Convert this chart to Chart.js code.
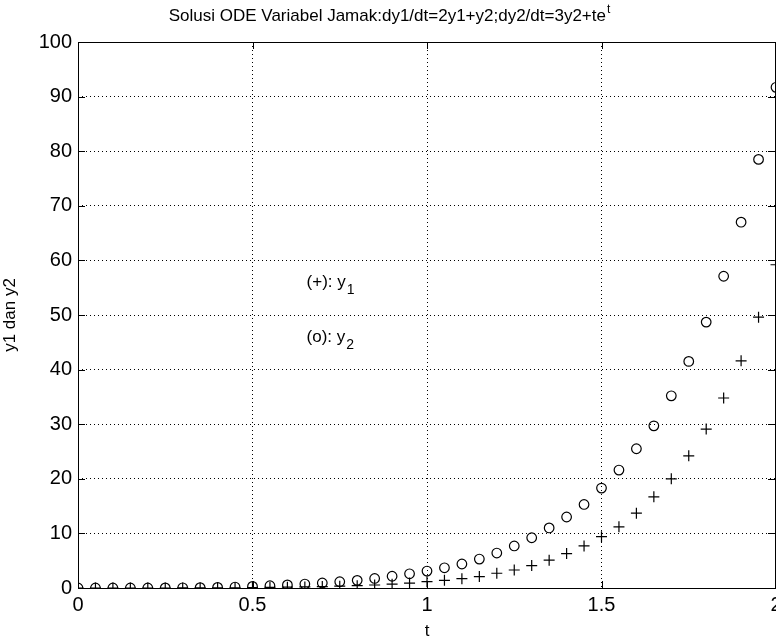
<!DOCTYPE html>
<html>
<head>
<meta charset="utf-8">
<script src="https://cdn.jsdelivr.net/npm/chart.js@4"></script>
<style>
html,body{margin:0;padding:0;background:#fff;}
#wrap{width:776px;height:643px;}
</style>
</head>
<body>
<div id="wrap"><canvas id="c" width="776" height="643"></canvas></div>
<script>
// ---- data ----
const tValues = [0,0.05,0.1,0.15,0.2,0.25,0.3,0.35,0.4,0.45,0.5,0.55,0.6,0.65,0.7,0.75,0.8,0.85,0.9,0.95,1.0,1.05,1.1,1.15,1.2,1.25,1.3,1.35,1.4,1.45,1.5,1.55,1.6,1.65,1.7,1.75,1.8,1.85,1.9,1.95,2.0];
const y1Values = [0,0,0,0,0,0,0.01,0.02,0.03,0.05,0.08,0.11,0.15,0.2,0.26,0.33,0.43,0.55,0.7,0.9,1.15,1.4,1.7,2.1,2.7,3.3,4.1,5.1,6.3,7.7,9.4,11.2,13.7,16.7,20.0,24.2,29.1,34.8,41.6,49.6,59.2];
const y2Values = [0,0,0,0,0.01,0.02,0.04,0.07,0.11,0.17,0.3,0.42,0.56,0.72,0.92,1.15,1.4,1.75,2.15,2.6,3.1,3.7,4.4,5.3,6.4,7.7,9.2,11.0,13.0,15.3,18.3,21.6,25.5,29.7,35.2,41.5,48.7,57.1,67.0,78.5,91.7];
const xTicks = [0,0.5,1,1.5,2];
const yTicks = [0,10,20,30,40,50,60,70,80,90,100];
const titleMain = "Solusi ODE Variabel Jamak:dy1/dt=2y1+y2;dy2/dt=3y2+te";
const titleSup = "t";
const xLabel = "t";
const yLabel = "y1 dan y2";
const noteText = ["(+): y", "(o): y"];
const noteSub = ["1", "2"];
const noteT = [0.655, 0.655];
const noteY = [56, 46];

const FONT = "'Liberation Sans', Arial, sans-serif";

const y1Data = tValues.map((t,i)=>({x:t,y:y1Values[i]}));
const y2Data = tValues.map((t,i)=>({x:t,y:y2Values[i]}));

const decor = {
  id:'decor',
  afterDraw(chart){
    const ctx = chart.ctx;
    const a = chart.chartArea;
    const xs = chart.scales.x, ys = chart.scales.y;
    ctx.save();
    ctx.strokeStyle = '#000';
    ctx.lineWidth = 1;
    // box
    ctx.strokeRect(Math.round(a.left)+0.5, Math.round(a.top)+0.5, Math.round(a.right-a.left)-1, Math.round(a.bottom-a.top));
    // inward ticks
    ctx.beginPath();
    xTicks.forEach(v=>{
      const px = Math.min(Math.round(xs.getPixelForValue(v)), Math.round(a.right)-1)+0.5;
      ctx.moveTo(px, a.bottom); ctx.lineTo(px, a.bottom-7);
      ctx.moveTo(px, a.top); ctx.lineTo(px, a.top+7);
    });
    yTicks.forEach(v=>{
      const py = Math.round(ys.getPixelForValue(v))+0.5;
      ctx.moveTo(a.left, py); ctx.lineTo(a.left+7, py);
      ctx.moveTo(a.right, py); ctx.lineTo(a.right-8, py);
    });
    ctx.stroke();
    // title with superscript
    ctx.fillStyle = '#000';
    ctx.font = "17px " + FONT;
    ctx.textBaseline = 'alphabetic';
    const w1 = ctx.measureText(titleMain).width;
    ctx.font = "12px " + FONT;
    const w2 = ctx.measureText(titleSup).width;
    const cx = 389;
    const startX = cx - (w1+w2)/2;
    ctx.font = "17px " + FONT;
    ctx.textAlign = 'left';
    ctx.fillText(titleMain, startX, 21);
    ctx.font = "12px " + FONT;
    ctx.fillText(titleSup, startX + w1 + 1, 13);
    // annotations with subscripts
    for (let i=0;i<noteText.length;i++){
      const px = xs.getPixelForValue(noteT[i]);
      const py = ys.getPixelForValue(noteY[i]);
      ctx.font = "17px " + FONT;
      ctx.textBaseline = 'middle';
      ctx.fillText(noteText[i], px, py);
      const w = ctx.measureText(noteText[i]).width;
      ctx.font = "14px " + FONT;
      ctx.fillText(noteSub[i], px + w + 1, py + 8);
    }
    ctx.restore();
  }
};

const bg = {
  id:'bg',
  beforeDraw(chart){
    const ctx = chart.ctx;
    ctx.save();
    ctx.fillStyle = '#fff';
    ctx.fillRect(0,0,chart.width,chart.height);
    ctx.restore();
  }
};

new Chart(document.getElementById('c'), {
  type:'scatter',
  data:{
    datasets:[
      {label:'y1', data:y1Data, pointStyle:'cross', pointRadius:5.5, pointBorderColor:'#000', pointBorderWidth:1.2, backgroundColor:'transparent', borderColor:'#000', showLine:false},
      {label:'y2', data:y2Data, pointStyle:'circle', pointRadius:4.8, pointBorderColor:'#000', pointBorderWidth:1.2, pointBackgroundColor:'transparent', backgroundColor:'transparent', borderColor:'#000', showLine:false}
    ]
  },
  options:{
    responsive:false,
    animation:false,
    devicePixelRatio:1,
    layout:{autoPadding:false, padding:{top:42,right:0,left:0,bottom:0}},
    plugins:{legend:{display:false},tooltip:{enabled:false},title:{display:false}},
    scales:{
      x:{
        type:'linear', min:0, max:2,
        afterBuildTicks(s){ s.ticks = xTicks.map(v=>({value:v})); },
        afterFit(s){ s.height = 55; s.paddingLeft = 0; s.paddingRight = 0; },
        ticks:{ color:'#000', font:{family:FONT,size:20}, padding:5, maxRotation:0,
          callback:(v)=>String(v) },
        grid:{ color:'#000', lineWidth:1, drawTicks:false },
        border:{ display:false, dash:[1,3] },
        title:{ display:true, text:xLabel, color:'#000', font:{family:FONT,size:17}, padding:{top:0,bottom:1} }
      },
      y:{
        type:'linear', min:0, max:100,
        afterBuildTicks(s){ s.ticks = yTicks.map(v=>({value:v})); },
        afterFit(s){ s.width = 78; s.paddingTop = 0; s.paddingBottom = 0; },
        ticks:{ color:'#000', font:{family:FONT,size:20}, padding:6,
          callback:(v)=>String(v) },
        grid:{ color:'#000', lineWidth:1, drawTicks:false },
        border:{ display:false, dash:[1,3] },
        title:{ display:true, text:yLabel, color:'#000', font:{family:FONT,size:17}, padding:{top:0,bottom:0} }
      }
    }
  },
  plugins:[bg, decor]
});
</script>
</body>
</html>
